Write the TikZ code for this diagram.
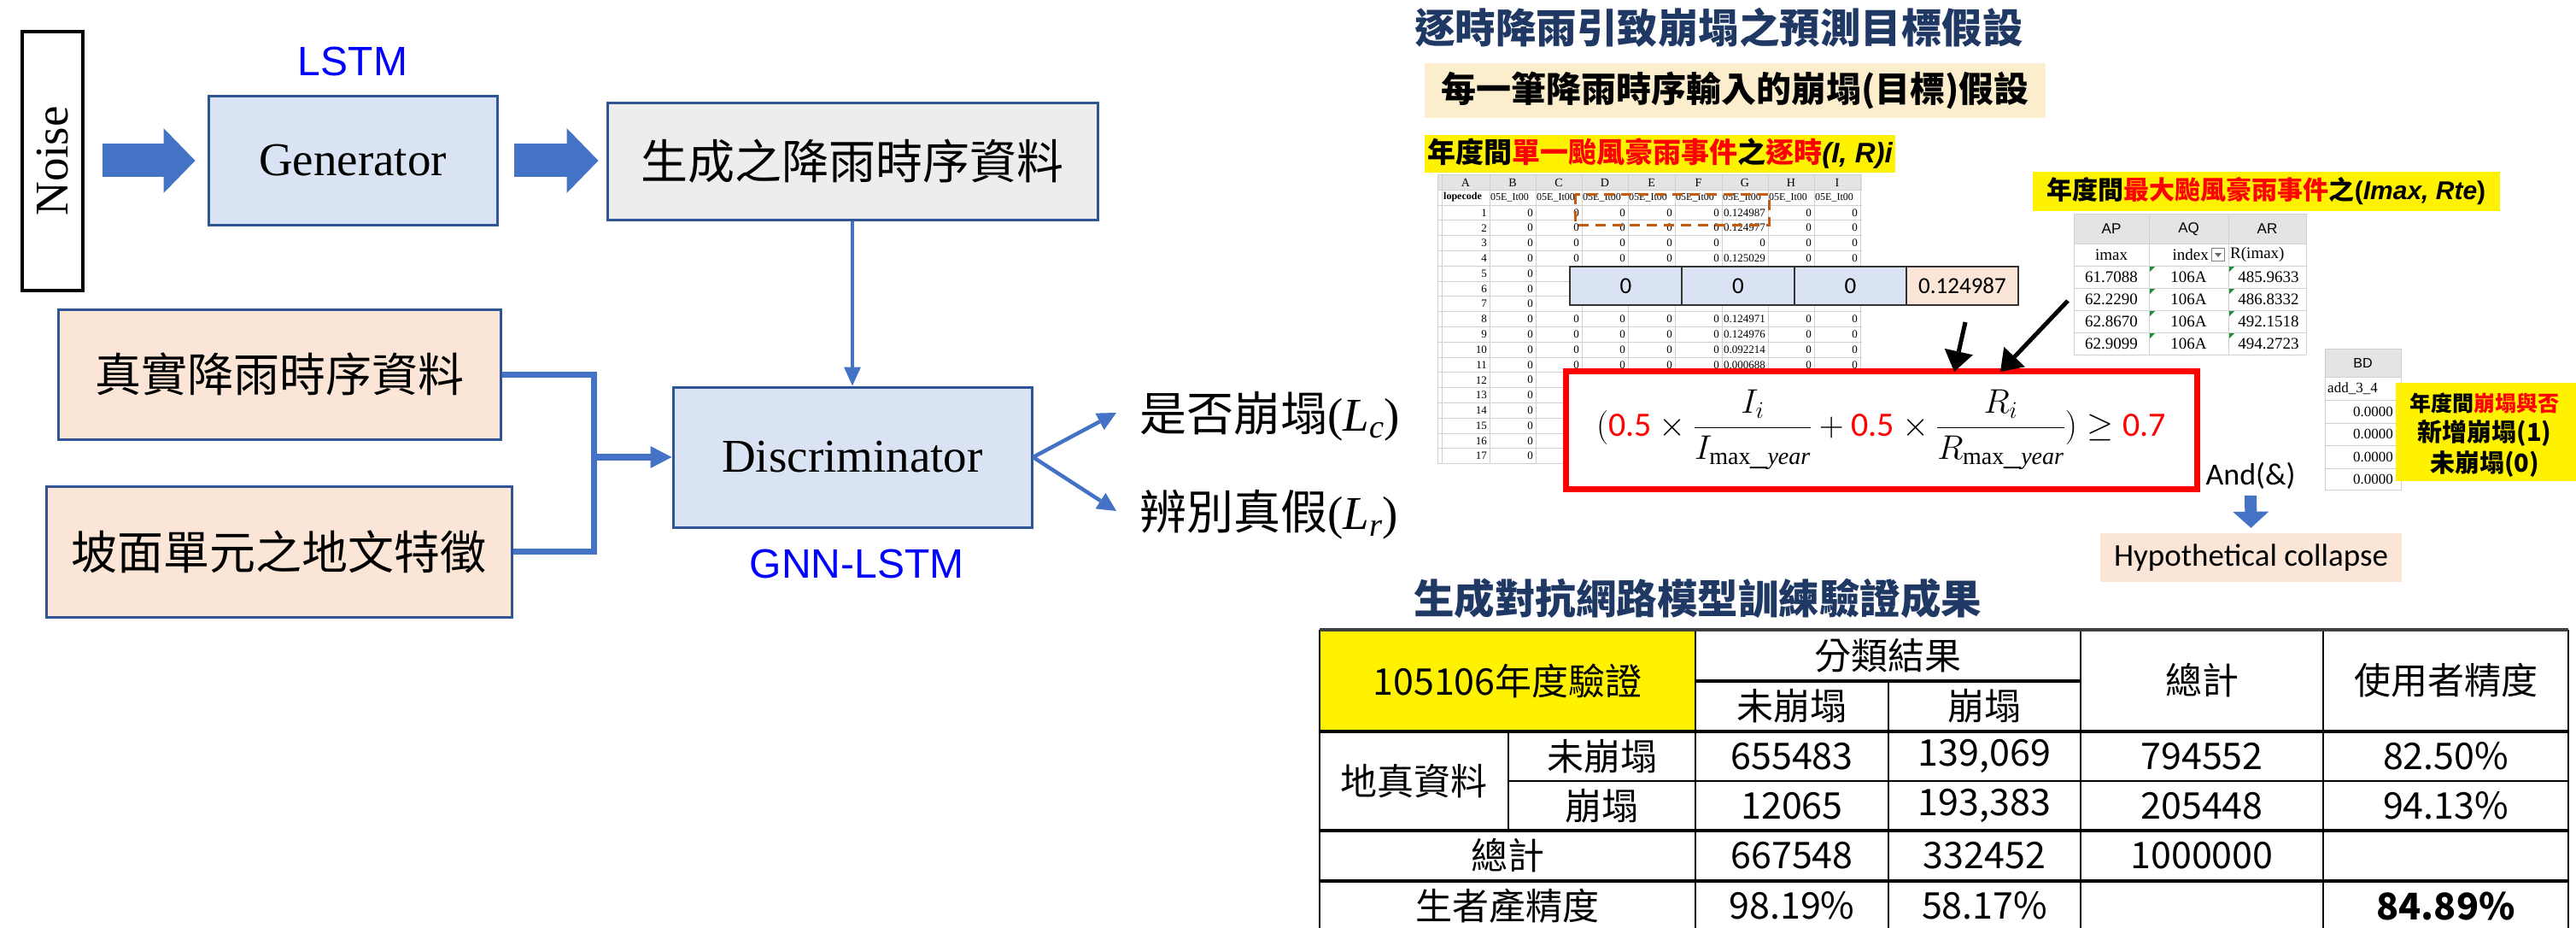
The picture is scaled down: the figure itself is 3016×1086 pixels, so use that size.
\RequirePackage{fix-cm}
\documentclass[tikz,border=0pt]{standalone}
\usepackage{fontspec}
\setmainfont{Liberation Serif}
\newfontfamily\cjk{Noto Sans CJK TC}
\newfontfamily\arialf{Liberation Sans}
\newfontfamily\calibf{Carlito}
\usetikzlibrary{arrows.meta,calc}
\definecolor{boxblue}{HTML}{DAE3F3}
\definecolor{boxpeach}{HTML}{FBE5D6}
\definecolor{boxgrey}{HTML}{EDEDED}
\definecolor{edgeblue}{HTML}{2F5597}
\definecolor{arrowblue}{HTML}{4472C4}
\definecolor{navy}{HTML}{1F3864}
\definecolor{subbg}{HTML}{FCEDCC}
\definecolor{orangedash}{HTML}{C55A11}
\definecolor{xlgrid}{HTML}{D0D0D0}
\definecolor{xlhead}{HTML}{E4E4E4}
\definecolor{pureblue}{RGB}{0,0,255}
\definecolor{xlgreen}{HTML}{1E8C3A}
\newcommand{\fsz}[1]{\fontsize{#1}{#1}\selectfont}
\begin{document}
\begin{tikzpicture}[x=1pt,y=-1pt,
  every node/.style={inner sep=0pt},
  bluebox/.style={draw=edgeblue, line width=3pt, fill=boxblue},
  peachbox/.style={draw=edgeblue, line width=3pt, fill=boxpeach},
  greybox/.style={draw=edgeblue, line width=3pt, fill=boxgrey},
  modellabel/.style={font=\arialf\fsz{48}, text=pureblue},
  blockarrow/.style={draw=arrowblue, line width=39pt, -{Triangle[length=37pt,width=76pt,line width=0pt]}},
  conn/.style={draw=arrowblue, line width=4pt, -{Triangle[length=22pt,width=20pt,line width=0pt]}},
  mergeline/.style={draw=arrowblue, line width=7pt},
  mergearrow/.style={draw=arrowblue, line width=8pt, -{Triangle[length=25pt,width=26pt,line width=0pt]}},
  outarrow/.style={draw=arrowblue, line width=4.5pt, -{Triangle[length=22pt,width=22pt,line width=0pt]}},
  blackarrow/.style={draw=black, line width=5pt, -{Triangle[length=24pt,width=34pt,line width=0pt]}},
  bluedown/.style={draw=arrowblue, line width=14pt, -{Triangle[length=19pt,width=42pt,line width=0pt]}},
  title/.style={font=\cjk\bfseries\fsz{47.5}, text=navy, anchor=west},
  xlv/.style={anchor=east, font=\fsz{13}},
  xlgridline/.style={draw=xlgrid, line width=1pt},
  apv/.style={font=\fsz{19}},
  stripcell/.style={draw=black!80, line width=2pt, minimum height=45pt, font=\calibf\fsz{27}},
  tcell/.style={font=\cjk\fsz{43}}
]
\useasboundingbox (0,0) rectangle (3016,1086);
\fill[white] (0,0) rectangle (3016,1086);

% ================= left diagram =================
\node[draw=black, line width=4pt, fill=white, minimum width=71pt, minimum height=303pt] (noise) at (61.5,188.5) {};
\node[rotate=90, font=\fsz{55}] (noisetxt) at (noise.center) {Noise};
\node[bluebox, minimum width=338pt, minimum height=150pt, font=\fsz{55}] (gen) at (413,188) {Generator};
\node[modellabel] (lstm) at (413,72) {LSTM};
\node[greybox, minimum width=574pt, minimum height=136pt, font=\cjk\fsz{55}] (gdata) at (998,189) {生成之降雨時序資料};
\node[bluebox, minimum width=420pt, minimum height=164pt, font=\fsz{55}] (disc) at (998,535) {Discriminator};
\node[modellabel] (gnn) at (1003,660) {GNN-LSTM};
\node[peachbox, minimum width=518pt, minimum height=152pt, font=\cjk\fsz{54}] (real) at (327,438) {真實降雨時序資料};
\node[peachbox, minimum width=545pt, minimum height=153pt, font=\cjk\fsz{54}] (geo) at (326.5,645.5) {坡面單元之地文特徵};
\node[anchor=west, font=\fsz{55}] (lc) at (1334,487) {{\cjk 是否崩塌}(\textit{L}\textsubscript{\textit{c}})};
\node[anchor=west, font=\fsz{55}] (lr) at (1334,602) {{\cjk 辨別真假}(\textit{L}\textsubscript{\textit{r}})};

\draw[blockarrow, shorten <=21pt, shorten >=14pt] (noise.east |- gen.west) -- (gen.west);
\draw[blockarrow, shorten <=18pt, shorten >=9pt] (gen.east) -- (gen.east -| gdata.west);
\draw[conn] (gdata.south) -- (disc.north);
\coordinate (mrg) at (695,535);
\draw[mergeline] (real.east) -| (mrg) |- (geo.east);
\draw[mergearrow] (mrg) -- (disc.west);
\coordinate (lctip) at (1307,483);
\coordinate (lrtip) at (1307,598);
\draw[outarrow] (disc.east) -- (lctip);
\draw[outarrow] (disc.east) -- (lrtip);

% ================= top right =================
\node[title] (t1) at (1656,32) {逐時降雨引致崩塌之預測目標假設};
\node[fill=subbg, minimum width=727pt, minimum height=64pt, font=\cjk\bfseries\fsz{41}] (sub) at (2031.5,106) {每一筆降雨時序輸入的崩塌(目標)假設};
\node[fill=yellow, minimum width=551pt, minimum height=44pt, font=\cjk\bfseries\fsz{33}] (y1) at (1943.5,180) {年度間\textcolor{red}{單一颱風豪雨事件}之\textcolor{red}{逐時}{\arialf\itshape (I, R)i}};

% spreadsheet 1
\fill[white] (1683,205) rectangle (2180,543);
\fill[xlhead] (1683,205) rectangle (2180,222);
\foreach \xx in {1683,1688,1744,1798,1852,1906,1961,2016,2070,2124,2178}
  \draw[xlgridline] (\xx,205) -- (\xx,543);
\draw[xlgridline] (1683,205) -- (2180,205);
\draw[xlgridline] (1683,222) -- (2180,222);
\foreach \r in {0,...,17}
  \draw[xlgridline] (1683,{240+\r*17.8}) -- (2180,{240+\r*17.8});
\foreach \c/\xm in {A/1716,B/1771,C/1825,D/1879,E/1933.5,F/1988.5,G/2043,H/2097,I/2151}
  \node[font=\fsz{14}] (h\c) at (\xm,213.5) {\c};
\node[anchor=west, font=\bfseries\fsz{12}] (hn0) at (1690,231) {lopecode};
\foreach \xl [count=\k] in {1745,1799,1853,1907,1962,2017,2071,2125}
  \node[anchor=west, font=\fsz{12}] (hn\k) at (\xl,231) {05E\_It00};
\foreach \r/\g in {1/0.124987,2/0.124977,3/0,4/0.125029,8/0.124971,9/0.124976,10/0.092214,11/0.000688}{
  \pgfmathsetmacro\yy{240+(\r-0.5)*17.8}
  \node[xlv] (sa\r) at (1741,\yy) {\r};
  \foreach \xr [count=\k] in {1795,1849,1903,1958,2013}
    \node[xlv] (s\r-\k) at (\xr,\yy) {0};
  \node[xlv] (sg\r) at (2067,\yy) {\g};
  \node[xlv] (sh\r) at (2121,\yy) {0};
  \node[xlv] (si\r) at (2175,\yy) {0};
}
\foreach \r in {5,6,7,12,13,14,15,16,17}{
  \pgfmathsetmacro\yy{240+(\r-0.5)*17.8}
  \node[xlv] (sa\r) at (1741,\yy) {\r};
  \node[xlv] (sb\r) at (1795,\yy) {0};
}
\draw[orangedash, line width=3pt, dash pattern=on 12pt off 8pt] (1844,227) rectangle (2071,263);

% strip of cells
\node[stripcell, fill=boxblue, minimum width=131pt] (z1) at (1903.5,334.5) {0};
\node[stripcell, fill=boxblue, minimum width=132pt] (z2) at (2035,334.5) {0};
\node[stripcell, fill=boxblue, minimum width=131pt] (z3) at (2166.5,334.5) {0};
\node[stripcell, fill=boxpeach, minimum width=131pt] (z4) at (2297.5,334.5) {0.124987};

% yellow label 2 and AP table
\node[fill=yellow, minimum width=547pt, minimum height=46pt, font=\cjk\bfseries\fsz{30}] (y2) at (2653.5,224) {年度間\textcolor{red}{最大颱風豪雨事件}之{\arialf (\textit{Imax, Rte})}};
\fill[white] (2428,250) rectangle (2700,415);
\fill[xlhead] (2428,250) rectangle (2700,285);
\foreach \xx in {2428,2516,2609,2700}
  \draw[xlgridline] (\xx,250) -- (\xx,415);
\foreach \yy in {250,285,311,337,363,389,415}
  \draw[xlgridline] (2428,\yy) -- (2700,\yy);
\node[font=\arialf\fsz{17}] (apAP) at (2472,268) {AP};
\node[font=\arialf\fsz{17}] (apAQ) at (2562.5,268) {AQ};
\node[font=\arialf\fsz{17}] (apAR) at (2654.5,268) {AR};
\node[apv] (ap0a) at (2472,298) {imax};
\node[apv, anchor=east] (ap0b) at (2586,298) {index};
\node[draw=black!50, line width=1pt, fill=white, minimum width=15pt, minimum height=15pt] (dd) at (2597,298) {};
\fill[black!60] (2593,296) -- (2601,296) -- (2597,301) -- cycle;
\node[apv, anchor=west] (ap0c) at (2611,298) {R(imax)};
\foreach \a/\b [count=\k] in {61.7088/485.9633,62.2290/486.8332,62.8670/492.1518,62.9099/494.2723}{
  \pgfmathsetmacro\yy{311+(\k-0.5)*26}
  \node[apv] (apa\k) at (2472,\yy) {\a};
  \node[apv] (apb\k) at (2562.5,\yy) {106A};
  \node[apv] (apc\k) at (2656,\yy) {\b};
  \fill[xlgreen] (2517,{311+(\k-1)*26+1}) -- ++(6,0) -- ++(-6,6) -- cycle;
  \fill[xlgreen] (2610,{311+(\k-1)*26+1}) -- ++(6,0) -- ++(-6,6) -- cycle;
}

% BD table
\fill[white] (2722,408) rectangle (2811,573);
\fill[xlhead] (2722,408) rectangle (2811,441);
\draw[xlgridline] (2722,408) rectangle (2811,573);
\foreach \yy in {441,468,495,521,548}
  \draw[xlgridline] (2722,\yy) -- (2811,\yy);
\node[font=\arialf\fsz{16}] (bdh) at (2766.5,424.5) {BD};
\node[anchor=west, font=\fsz{17}] (bda) at (2725,454.5) {add\_3\_4};
\foreach \yy [count=\k] in {481.5,508,534.5,560.5}
  \node[anchor=east, font=\fsz{17}] (bd\k) at (2802,\yy) {0.0000};

% yellow label 3
\node[fill=yellow, minimum width=211pt, minimum height=115pt] (y3) at (2910.5,505.5) {};
\node[font=\cjk\bfseries\fsz{25}] (y3a) at (2909,472) {年度間\textcolor{red}{崩塌與否}};
\node[font=\cjk\bfseries\fsz{29}] (y3b) at (2909,507) {新增崩塌(1)};
\node[font=\cjk\bfseries\fsz{29}] (y3c) at (2909,543) {未崩塌(0)};

% red formula box
\node[draw=red, line width=7pt, fill=white, minimum width=739pt, minimum height=138pt, font=\fsz{40}] (redbox) at (2202.5,503)
  {$\displaystyle(\mbox{\calibf\color{red}0.5}\times\frac{I_i}{I_{\mathrm{max}\_\mathit{year}}}+\mbox{\calibf\color{red}0.5}\times\frac{R_i}{R_{\mathrm{max}\_\mathit{year}}})\geq\mbox{\calibf\color{red}0.7}$};

\coordinate (a1s) at (2301,377);
\coordinate (a1e) at (2288,435);
\coordinate (a2s) at (2421,352);
\coordinate (a2e) at (2342,435);
\draw[blackarrow] (a1s) -- (a1e);
\draw[blackarrow] (a2s) -- (a2e);

\node[font=\calibf\fsz{36}] (andn) at (2635,557) {And(\&)};
\node[fill=boxpeach, minimum width=353pt, minimum height=57pt, font=\calibf\fsz{37}] (hypo) at (2635.5,652.5) {Hypothetical collapse};
\draw[bluedown, shorten <=7pt, shorten >=6pt] (andn.south) -- (hypo.north);

% ================= bottom right: table =================
\node[title] (t2) at (1655,700) {生成對抗網路模型訓練驗證成果};

\fill[yellow] (1545,737) rectangle (1985,856);
\begin{scope}[line width=1.5pt]
\draw (1545,737) -- (1545,1095);
\draw (1766,856) -- (1766,972);
\draw (1985,737) -- (1985,1095);
\draw (2211,797) -- (2211,1095);
\draw (2436,737) -- (2436,1095);
\draw (2720,737) -- (2720,1095);
\draw (3007,737) -- (3007,1095);
\draw (1766,914) -- (3007,914);
\end{scope}
\begin{scope}[line width=3.5pt]
\draw[black!75] (1545,737) -- (3007,737);
\draw (1985,797) -- (2436,797);
\draw (1545,856) -- (3007,856);
\draw (1545,972) -- (3007,972);
\draw (1545,1031) -- (3007,1031);
\end{scope}

\node[tcell] (c00) at (1765,796.5) {105106年度驗證};
\node[tcell] (c01) at (2210.5,767) {分類結果};
\node[tcell] (c02) at (2098,826.5) {未崩塌};
\node[tcell] (c03) at (2323.5,826.5) {崩塌};
\node[tcell] (c04) at (2578,796.5) {總計};
\node[tcell] (c05) at (2863.5,796.5) {使用者精度};

\node[tcell] (c10) at (1655.5,914) {地真資料};
\node[tcell] (c11) at (1875.5,885) {未崩塌};
\node[tcell] (c12) at (2098,885) {655483};
\node[tcell] (c13) at (2323.5,885) {139,069};
\node[tcell] (c14) at (2578,885) {794552};
\node[tcell] (c15) at (2863.5,885) {82.50\%};

\node[tcell] (c21) at (1875.5,943) {崩塌};
\node[tcell] (c22) at (2098,943) {12065};
\node[tcell] (c23) at (2323.5,943) {193,383};
\node[tcell] (c24) at (2578,943) {205448};
\node[tcell] (c25) at (2863.5,943) {94.13\%};

\node[tcell] (c30) at (1765,1001.5) {總計};
\node[tcell] (c32) at (2098,1001.5) {667548};
\node[tcell] (c33) at (2323.5,1001.5) {332452};
\node[tcell] (c34) at (2578,1001.5) {1000000};

\node[tcell] (c40) at (1765,1060) {生者產精度};
\node[tcell] (c42) at (2098,1060) {98.19\%};
\node[tcell] (c43) at (2323.5,1060) {58.17\%};
\node[tcell, font=\cjk\bfseries\fsz{43}] (c45) at (2863.5,1060) {84.89\%};
\end{tikzpicture}
\end{document}
